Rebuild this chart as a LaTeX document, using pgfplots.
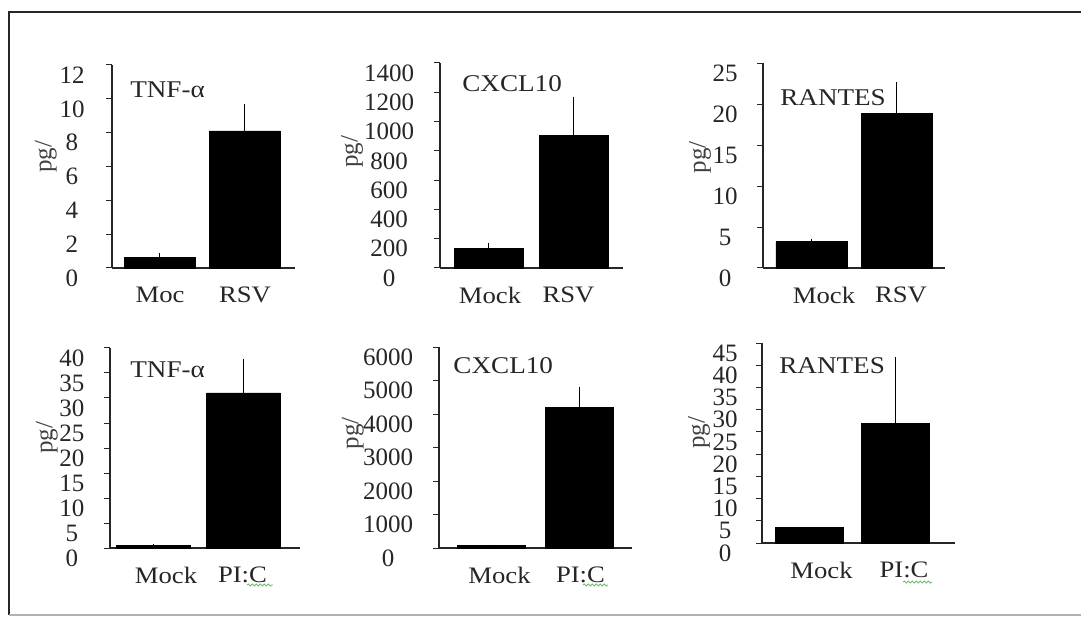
\documentclass[border=0pt]{standalone}
\usepackage{fontspec}
\setmainfont{Liberation Serif}
\newfontfamily\widefont{Liberation Serif}[FakeStretch=1.13]
\usepackage{pgfplots}
\pgfplotsset{compat=1.18}
\usetikzlibrary{decorations.pathmorphing}
\definecolor{spell}{HTML}{6DBE6D}
\pgfplotsset{
  panel/.style={
    scale only axis,
    axis x line=bottom, axis y line=left,
    axis line style={-, line width=0.6pt, black!85},
    ymin=0,
    tick align=outside,
    major tick length=3pt,
    ytick style={line width=0.5pt, black!85},
    xtick style={draw=none},
    scaled y ticks=false,
    /pgf/number format/assume math mode=true,
    /pgf/number format/1000 sep={},
    yticklabel style={font=\fontsize{12.5}{12.5}\selectfont, anchor=center, yshift=-5pt, text=black!85},
    xticklabel style={font=\widefont\fontsize{11.8}{12}\selectfont, yshift=-3pt, text=black!85},
    ylabel style={font=\fontsize{12.5}{12.5}\selectfont, anchor=center, text=black!75},
    ybar,
    clip=false,
  },
  bars/.style={fill=black, draw=black, line width=0.4pt,
    error bars/.cd, y dir=plus, y explicit, error mark=none,
    error bar style={line width=0.7pt, black}},
}
\tikzset{ttl/.style={anchor=base west, font=\widefont\fontsize{12}{12}\selectfont, text=black!85, inner sep=0pt},
  squig/.style={spell, line width=0.45pt, decorate, decoration={snake, amplitude=0.5pt, segment length=2pt}}}
\begin{document}
\begin{tikzpicture}
\path[use as bounding box] (0,0) rectangle (540.5pt,308pt);
\draw[line width=1pt, black!85] (4pt,302pt) -- (540.5pt,302pt);
\draw[line width=1pt, black!85] (4.5pt,302pt) -- (4.5pt,0.5pt);
\draw[line width=0.6pt, gray!60] (4.5pt,0.5pt) -- (540.5pt,0.5pt);

% Panel 1: TNF-alpha, RSV
\begin{axis}[panel, at={(56pt,174pt)}, anchor=south west, width=91.5pt, height=101.5pt,
  xmin=-0.559, xmax=1.594, bar width=0.835, ymax=12, ytick={0,2,...,12},
  xtick={0.006,1.006}, xticklabels={Moc,RSV},
  yticklabel style={xshift=-17pt},
  ylabel={pg/}, ylabel style={at={(axis description cs:-0.361,0.547)}}]
\addplot[bars] coordinates {(0,0.65) +- (0,0.25) (1,8.1) +- (0,1.6)};
\node[ttl] at (axis description cs:0.098,0.842) {TNF-α};
\end{axis}

% Panel 2: CXCL10, RSV
\begin{axis}[panel, at={(220pt,174pt)}, anchor=south west, width=91.5pt, height=102.5pt,
  xmin=-0.57, xmax=1.58, bar width=0.81, ymax=1400, ytick={0,200,...,1400},
  xtick={0.018,0.94}, xticklabels={Mock,RSV},
  yticklabel style={xshift=-22.5pt},
  ylabel={pg/}, ylabel style={at={(axis description cs:-0.481,0.566)}}]
\addplot[bars] coordinates {(0,135) +- (0,35) (1,905) +- (0,265)};
\node[ttl] at (axis description cs:0.12,0.859) {CXCL10};
\end{axis}

% Panel 3: RANTES, RSV
\begin{axis}[panel, at={(381.5pt,174pt)}, anchor=south west, width=91pt, height=102.5pt,
  xmin=-0.57, xmax=1.57, bar width=0.835, ymax=25, ytick={0,5,...,25},
  xtick={0.147,1.053}, xticklabels={Mock,RSV},
  yticklabel style={xshift=-16pt},
  ylabel={pg/}, ylabel style={at={(axis description cs:-0.346,0.541)}}]
\addplot[bars] coordinates {(0,3.2) +- (0,0.35) (1,18.8) +- (0,3.9)};
\node[ttl] at (axis description cs:0.093,0.795) {RANTES};
\end{axis}

% Panel 4: TNF-alpha, PI:C
\begin{axis}[panel, at={(55pt,34pt)}, anchor=south west, width=95pt, height=100pt,
  xmin=-0.483, xmax=1.628, bar width=0.82, ymax=40, ytick={0,5,...,40},
  xtick={0.139,0.989}, xticklabels={Mock,PI:C},
  yticklabel style={xshift=-16pt},
  ylabel={pg/}, ylabel style={at={(axis description cs:-0.332,0.55)}}]
\addplot[bars] coordinates {(0,0.6) +- (0,0.2) (1,31) +- (0,6.8)};
\node[ttl] at (axis description cs:0.105,0.855) {TNF-α};
\draw[squig] (axis description cs:0.721,-0.185) -- (axis description cs:0.858,-0.185);
\end{axis}

% Panel 5: CXCL10, PI:C
\begin{axis}[panel, at={(219.5pt,34pt)}, anchor=south west, width=96.5pt, height=100.5pt,
  xmin=-0.597, xmax=1.597, bar width=0.77, ymax=6000, ytick={0,1000,...,6000},
  xtick={0.091,1.011}, xticklabels={Mock,PI:C},
  yticklabel style={xshift=-22.5pt},
  ylabel={pg/}, ylabel style={at={(axis description cs:-0.446,0.572)}}]
\addplot[bars] coordinates {(0,70) +- (0,30) (1,4190) +- (0,630)};
\node[ttl] at (axis description cs:0.073,0.87) {CXCL10};
\draw[squig] (axis description cs:0.746,-0.184) -- (axis description cs:0.876,-0.184);
\end{axis}

% Panel 6: RANTES, PI:C
\begin{axis}[panel, at={(381pt,36.5pt)}, anchor=south west, width=96.5pt, height=100pt,
  xmin=-0.552, xmax=1.692, bar width=0.8, ymax=45, ytick={0,5,...,45},
  xtick={0.14,1.099}, xticklabels={Mock,PI:C},
  yticklabel style={xshift=-15.5pt},
  ylabel={pg/}, ylabel style={at={(axis description cs:-0.326,0.55)}}]
\addplot[bars] coordinates {(0,3.6) +- (0,0) (1,27) +- (0,14.9)};
\node[ttl] at (axis description cs:0.088,0.85) {RANTES};
\draw[squig] (axis description cs:0.731,-0.195) -- (axis description cs:0.881,-0.195);
\end{axis}
\end{tikzpicture}
\end{document}
